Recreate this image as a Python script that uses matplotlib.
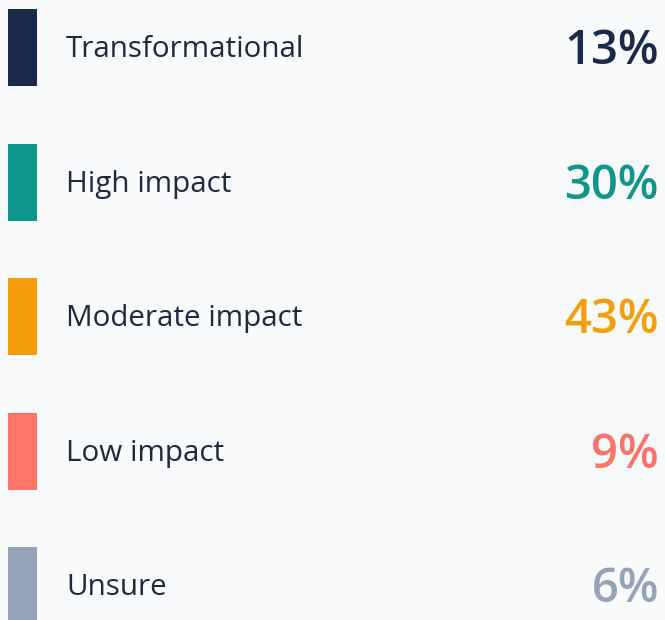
import matplotlib.pyplot as plt
import numpy as np

categories = ['Transformational', 'High impact', 'Moderate impact', 'Low impact', 'Unsure']
shares = [13, 30, 43, 9, 6]
colors = ['#1b2a4b', '#0f968a', '#f59e0b', '#fe7468', '#94a3b8']

bg = '#f8fafc'
text_color = '#1e293b'

fig = plt.figure(figsize=(6.65, 6.2), dpi=100, facecolor=bg)
ax = fig.add_axes([0, 0, 1, 1])
ax.set_facecolor(bg)

# one row every 134.5 px, first row centred at 47.5 px
row = 134.5
pos = np.arange(len(categories))
ax.set_xlim(0, 665)
ax.set_ylim((620 - 47.5) / row, -47.5 / row)

ax.barh(pos, 29, left=8, height=77 / row, color=colors)

for i, (cat, val, c) in enumerate(zip(categories, shares, colors)):
    ax.text(66, i + 9.5 / row, cat, fontsize=21.3, family='Open Sans',
            color=text_color, ha='left', va='baseline')
    ax.text(659, i + 16.5 / row, f'{val}%', fontsize=34, family='Open Sans',
            weight='semibold', color=c, ha='right', va='baseline')

ax.set_axis_off()
fig.savefig('out.png', dpi=100, facecolor=bg)
